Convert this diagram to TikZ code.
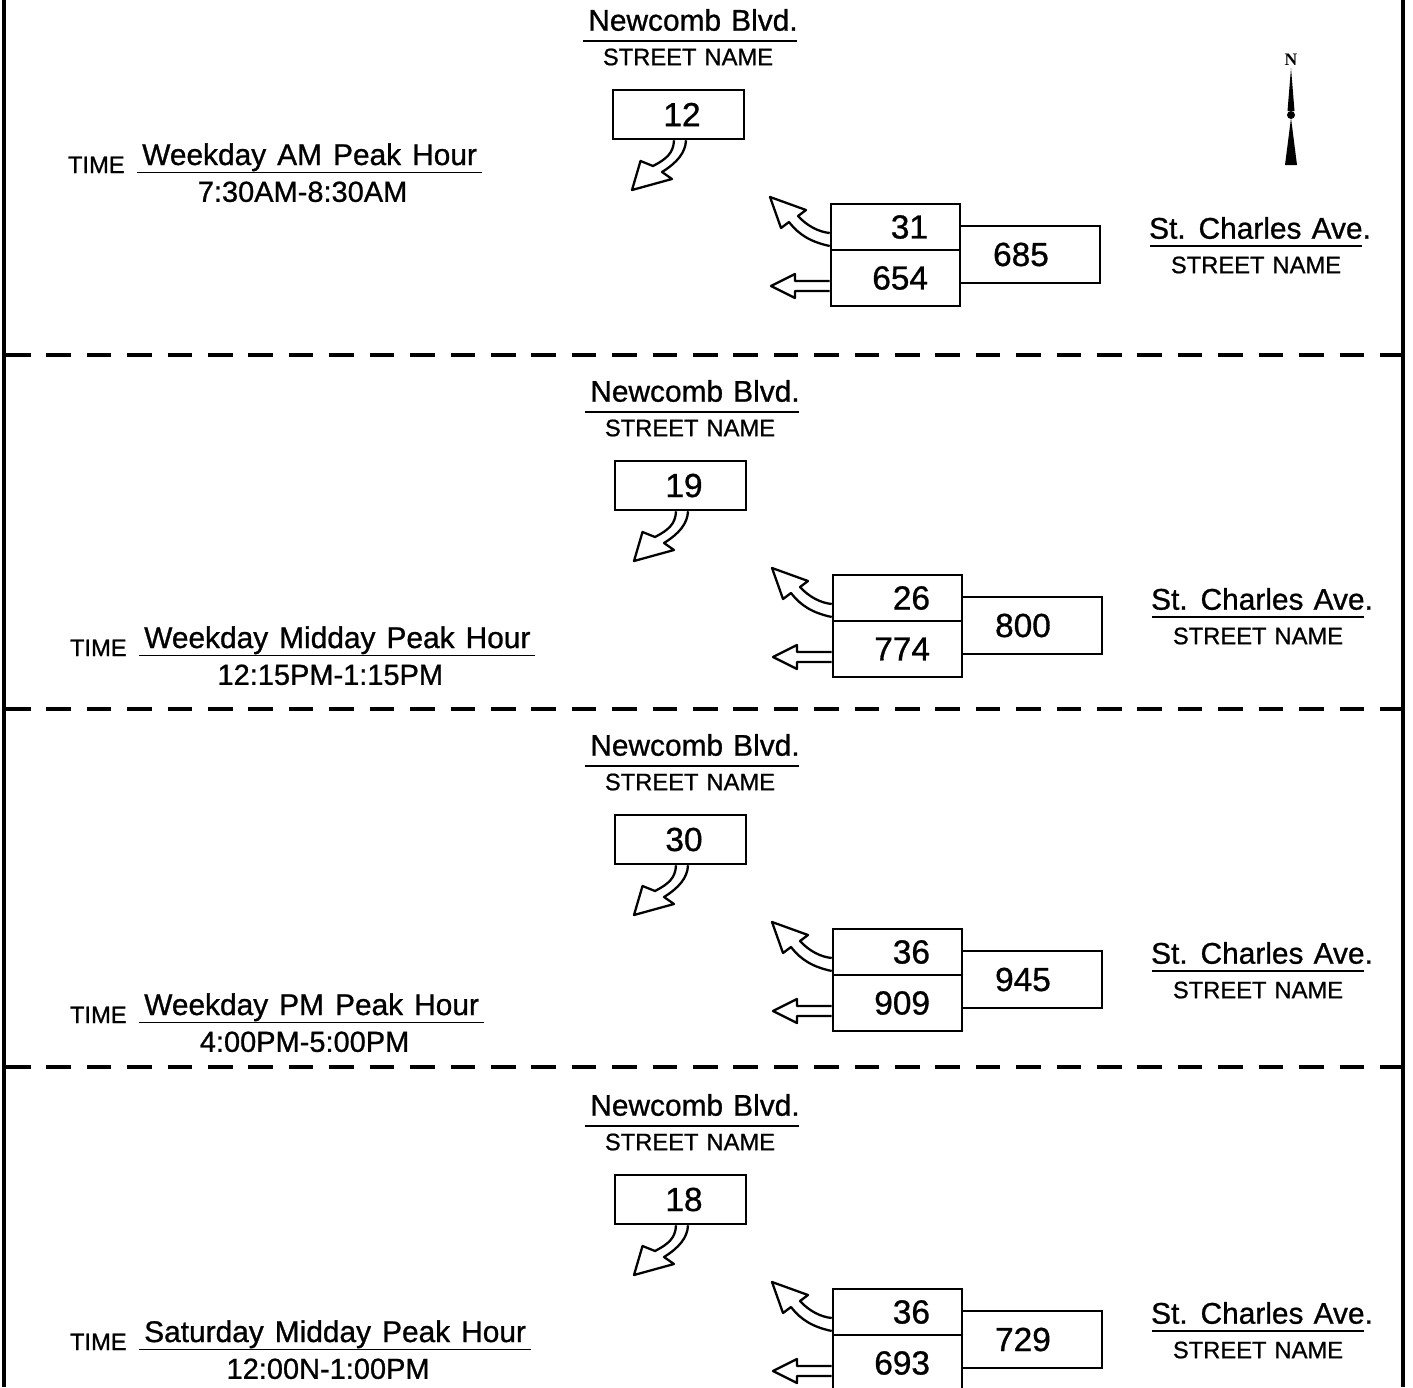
\documentclass[tikz,border=0pt]{standalone}
\usepackage{fontspec}
\setmainfont{Liberation Sans}[FakeBold=0.9]
\newfontfamily\nfont{Liberation Serif}
\usetikzlibrary{positioning}
\newcommand\widesp[1]{\spaceskip=#1\relax}

\tikzset{
  street/.style={font=\fontsize{17}{20}\selectfont, inner sep=0pt},
  capt/.style={font=\fontsize{13.5}{16}\selectfont, inner sep=0pt},
  period/.style={font=\fontsize{17}{20}\selectfont, inner sep=0.5pt},
  hours/.style={font=\fontsize{16.5}{20}\selectfont, inner sep=0pt},
  volbox/.style={draw, line width=1.5pt, font=\fontsize{19}{22}\selectfont, outer sep=0pt, inner sep=0pt},
  lanebox/.style={minimum width=2.58cm, minimum height=0.92cm, text width=1.3cm, align=right, inner xsep=0.64cm},
  uline/.style={line width=1pt},
  movarrow/.style={draw, fill=white, line width=1.3pt, line join=round},
  sepline/.style={line width=2.3pt, dash pattern=on 14pt off 9pt},
  frame/.style={line width=2.3pt}
}

\begin{document}
\begin{tikzpicture}[x=0.02cm, y=-0.02cm]
  \useasboundingbox (0,0) rectangle (1413,1387);
  % frame and separators
  \draw[frame] (4,0) -- (4,1387);
  \draw[frame] (1403,0) -- (1403,1387);
  \foreach \y in {355,709,1067}
    \draw[sepline] (6,\y) -- (1401,\y);

  % north arrow
  \node[font=\nfont\bfseries\fontsize{10}{12}\selectfont, inner sep=0pt] (north) at (1291,60) {N};
  \fill (1291,68) -- (1294.5,111) -- (1287.5,111) -- cycle;
  \fill (1291,115) circle (0.08cm);
  \fill (1291,118) -- (1297,165) -- (1285,165) -- cycle;

  \foreach \dx/\dy/\sbv/\ltv/\thv/\apv/\ty/\ttl/\hrs [count=\i] in {
      0/0/12/31/654/685/165/Weekday AM Peak Hour/7:30AM-8:30AM,
      2/371/19/26/774/800/277/Weekday Midday Peak Hour/12:15PM-1:15PM,
      2/725/30/36/909/945/290/Weekday PM Peak Hour/4:00PM-5:00PM,
      2/1085/18/36/693/729/257/Saturday Midday Peak Hour/12:00N-1:00PM}{
    \begin{scope}[shift={(\dx,\dy)}]
      \node[street] (nb\i) at (693,20) {\widesp{0.34em}Newcomb Blvd.};
      \draw[uline] (583,41) -- (797,41);
      \node[capt] (nbc\i) at (688,57) {\widesp{0.34em}STREET NAME};
      \node[street] (sc\i) at (1260,228) {\widesp{0.34em}St. Charles Ave.};
      \draw[uline] (1150,246) -- (1362,246);
      \node[capt] (scc\i) at (1256,265) {\widesp{0.34em}STREET NAME};

      % volumes
      \node[volbox, minimum width=2.62cm, minimum height=0.98cm] (sb\i) at (678.5,114.5) {\hspace{0.14cm}\sbv};
      \node[volbox, lanebox] (lt\i) at (895.5,227) {\ltv};
      \node[volbox, lanebox, minimum height=1.12cm, below=0pt of lt\i] (th\i) {\thv};
      \node[volbox, minimum width=2.8cm, minimum height=1.14cm, right=0pt of lt\i.south east, yshift=-0.09cm] (ap\i) {\apv\hspace*{0.36cm}};

      % turning movements
      \draw[movarrow, shift={(sb\i.south)}] (-4.5,1.3) .. controls (-5,14) and (-12,20) .. (-25.5,27)
        -- (-38,22) -- (-46.5,51) -- (-6.5,40) -- (-16.5,33) .. controls (-2,24) and (7,14) .. (7.5,1.3);
      \draw[movarrow, shift={(lt\i.south west)}] (-1.3,-4) .. controls (-20,-8) and (-32,-15) .. (-42,-28)
        -- (-50,-22) -- (-61,-53) -- (-25,-40) -- (-33,-34) .. controls (-24,-24) and (-12,-18) .. (-1.3,-17);
      \draw[movarrow, shift={(th\i.west)}] (-1.3,3) -- (-36,3) -- (-36,-4) -- (-60,8) -- (-36,20) -- (-36,13) -- (-1.3,13);

      % time period
      \node[period, anchor=base west] (tt\i) at (141,\ty) {\widesp{0.37em}\ttl};
      \draw[uline] ([xshift=-2pt]tt\i.south west) -- ([xshift=2pt]tt\i.south east);
      \node[capt, anchor=base east] (tm\i) at (125,\ty+8) {TIME};
      \node[hours, below=5pt of tt\i, xshift=-4pt] (hr\i) {\hrs};
    \end{scope}
  }
\end{tikzpicture}
\end{document}
